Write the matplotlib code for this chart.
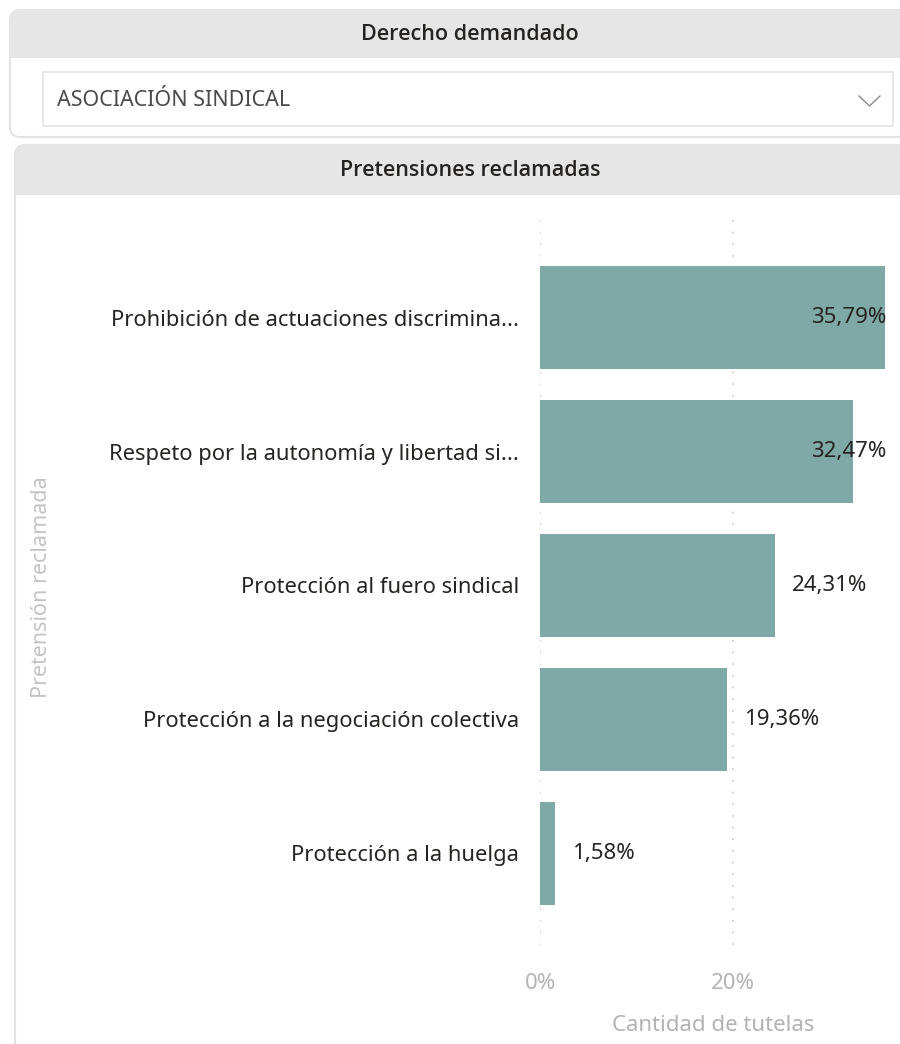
import matplotlib
matplotlib.use("Agg")
import matplotlib.pyplot as plt
from matplotlib.patches import FancyBboxPatch, Rectangle

plt.rcParams['font.family'] = ['Noto Sans', 'DejaVu Sans']

# data
categories = [
    "Prohibición de actuaciones discrimina...",
    "Respeto por la autonomía y libertad si...",
    "Protección al fuero sindical",
    "Protección a la negociación colectiva",
    "Protección a la huelga",
]
values = [35.79, 32.47, 24.31, 19.36, 1.58]
value_labels = ["35,79%", "32,47%", "24,31%", "19,36%", "1,58%"]
xticks = [0, 20]
xtick_labels = ["0%", "20%"]
filter_title = "Derecho demandado"
filter_value = "ASOCIACIÓN SINDICAL"
chart_title = "Pretensiones reclamadas"

W, H = 900, 1044
fig = plt.figure(figsize=(W / 100, H / 100), dpi=100)

# background layer in pixel coordinates
bg = fig.add_axes([0, 0, 1, 1])
bg.set_xlim(0, W)
bg.set_ylim(H, 0)
bg.axis('off')

title_font = ['Open Sans', 'Lato', 'DejaVu Sans']

# top slicer panel
bg.add_patch(FancyBboxPatch((10, 10), 905, 127, boxstyle="round,pad=0,rounding_size=10",
                            fc="white", ec="#e3e3e3", lw=1.5))
bg.add_patch(FancyBboxPatch((10, 10), 905, 48, boxstyle="round,pad=0,rounding_size=10",
                            fc="#e6e6e6", ec="none"))
bg.add_patch(Rectangle((10, 40), 905, 18, fc="#e6e6e6", ec="none"))
bg.text(470, 34, filter_title, ha="center", va="center", fontsize=15.5,
        fontweight="semibold", family=title_font, color="#252423")
bg.add_patch(Rectangle((43, 72), 850, 54, fc="white", ec="#e8e8e8", lw=1.5))
bg.text(57, 101, filter_value, ha="left", va="center", fontsize=15.5, color="#4a4a4a")
bg.plot([859, 869.5, 880], [96, 106, 96], color="#8a8a8a", lw=1.0)

# chart panel
bg.add_patch(FancyBboxPatch((15, 145), 900, 920, boxstyle="round,pad=0,rounding_size=10",
                            fc="white", ec="#e3e3e3", lw=1.5))
bg.add_patch(FancyBboxPatch((15, 145), 900, 50, boxstyle="round,pad=0,rounding_size=10",
                            fc="#e6e6e6", ec="none"))
bg.add_patch(Rectangle((15, 175), 900, 20, fc="#e6e6e6", ec="none"))
bg.text(470, 170, chart_title, ha="center", va="center", fontsize=15.5,
        fontweight="semibold", family=title_font, color="#252423")

# bar chart axes: 540..886 px wide, 218..945 px tall
left, right, top, bottom = 540, 886, 218, 945
ax = fig.add_axes([left / W, 1 - bottom / H, (right - left) / W, (bottom - top) / H])
ax.patch.set_alpha(0)
ypos = list(range(len(categories)))
xmax = 35.85
ax.barh(ypos, values, height=0.77, color="#7fa9a6", zorder=2)
ax.set_xlim(0, xmax)
ax.set_ylim(4.687, -0.746)

for i, (v, lab) in enumerate(zip(values, value_labels)):
    if v > 30:
        ax.text(xmax, i, lab, ha="right", va="center", fontsize=16, color="#252423", zorder=3)
    else:
        ax.text(v + 1.75, i, lab, ha="left", va="center", fontsize=16, color="#252423", zorder=3)

ax.set_yticks(ypos)
ax.set_yticklabels(categories, fontsize=15.8, color="#252423")
ax.set_xticks(xticks)
ax.set_xticklabels(xtick_labels, fontsize=16, color="#b3b3b3")
ax.tick_params(axis="both", length=0)
ax.tick_params(axis="y", pad=15)
ax.tick_params(axis="x", pad=20)
for s in ax.spines.values():
    s.set_visible(False)
ax.xaxis.grid(True, linestyle=(0, (1, 6)), color="#c8c8c8", lw=1.2, zorder=0)

ax.set_xlabel("Cantidad de tutelas", fontsize=16, color="#b3b3b3", labelpad=15)
fig.text(42 / W, 1 - 587 / H, "Pretensión reclamada", rotation=90, ha="center", va="center",
         fontsize=15.5, color="#c4c4c4")

fig.savefig("out.png", dpi=100)
